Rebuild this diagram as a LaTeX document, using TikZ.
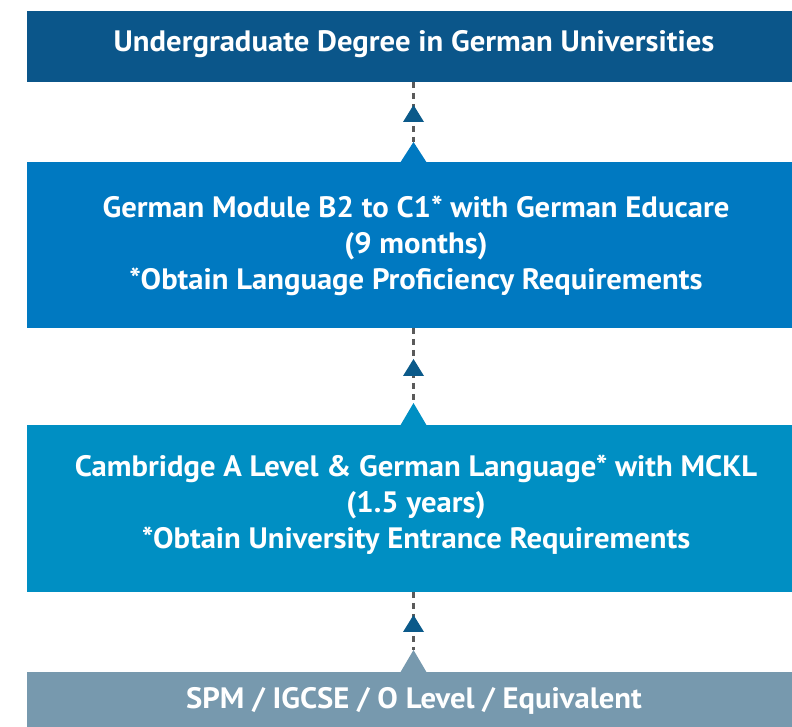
\documentclass[tikz,border=0pt]{standalone}
\usepackage{fontspec}
\setmainfont{PT Sans}[FakeStretch=1.04]
\definecolor{boxA}{HTML}{0B568A}
\definecolor{boxB}{HTML}{0079C1}
\definecolor{boxC}{HTML}{008FC3}
\definecolor{boxD}{HTML}{7799AE}
\definecolor{headc}{HTML}{0B5A8A}
\definecolor{dashc}{HTML}{5A5A5A}
\begin{document}
\begin{tikzpicture}[x=1pt,y=1pt,
  stagebox/.style={rectangle,inner sep=0pt,outer sep=0pt,anchor=south west,draw=none},
  stagetext/.style={text=white,font=\bfseries\fontsize{29.5}{36}\selectfont,align=center,anchor=base,inner sep=0pt},
  dashlink/.style={draw=dashc,line width=3pt,dash pattern=on 6pt off 5pt},
]
\useasboundingbox (0,0) rectangle (792,727);
% boxes
\node[stagebox,fill=boxA,minimum width=765pt,minimum height=71pt] (b1) at (27,645) {};
\node[stagebox,fill=boxB,minimum width=765pt,minimum height=166pt] (b2) at (27,399) {};
\node[stagebox,fill=boxC,minimum width=765pt,minimum height=167pt] (b3) at (27,135) {};
\node[stagebox,fill=boxD,minimum width=765pt,minimum height=55pt] (b4) at (27,0) {};
% apex coordinates of box triangles
\coordinate (t2) at (413.5,585);
\coordinate (t3) at (413.5,324);
\coordinate (t4) at (413.5,77);
\fill[boxB] (t2) -- ++(-13.5,-21) -- ++(27,0) -- cycle;
\fill[boxC] (t3) -- ++(-13.5,-23) -- ++(27,0) -- cycle;
\fill[boxD] (t4) -- ++(-13.5,-23) -- ++(27,0) -- cycle;
% dashed connectors
\draw[dashlink] (b1.south -| t2) -- (t2);
\draw[dashlink] (b2.south -| t3) -- (t3);
\draw[dashlink] (b3.south -| t4) -- (t4);
% small arrowheads
\fill[headc] (413.5,622) -- (403,605) -- (424,605) -- cycle;
\fill[headc] (413.5,368) -- (403,351) -- (424,351) -- cycle;
\fill[headc] (413.5,112) -- (403,95) -- (424,95) -- cycle;
% texts (anchor base = last line)
\node[stagetext] (x1) at (414,675) {Undergraduate Degree in German Universities};
\node[stagetext] (x2) at (416,437) {German Module B2 to C1* with German Educare\\(9 months)\\*Obtain Language Proficiency Requirements};
\node[stagetext] (x3) at (416,178) {Cambridge A Level \& German Language* with MCKL\\(1.5 years)\\*Obtain University Entrance Requirements};
\node[stagetext] (x4) at (414,18) {SPM / IGCSE / O Level / Equivalent};
\end{tikzpicture}
\end{document}
